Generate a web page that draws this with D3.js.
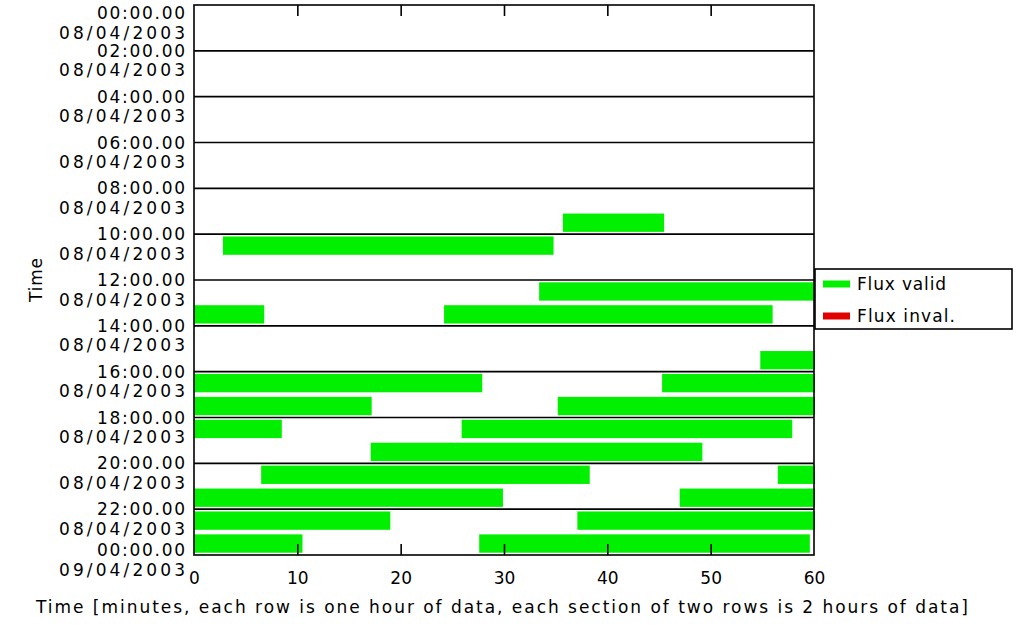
<!DOCTYPE html>
<html>
<head>
<meta charset="utf-8">
<script src="https://cdn.jsdelivr.net/npm/d3@7"></script>
<style>
  html, body { margin: 0; padding: 0; background: #ffffff; }
  svg { display: block; }
  text { font-family: "DejaVu Sans", sans-serif; fill: #000; }
</style>
</head>
<body>
<svg id="chart" width="1016" height="630"></svg>
<script>
// ---- data ----
const hourRows = d3.range(24);                   // one row per hour
const minuteTicks = [0, 10, 20, 30, 40, 50, 60];
const sectionTimes = ["00:00.00","02:00.00","04:00.00","06:00.00","08:00.00","10:00.00",
                      "12:00.00","14:00.00","16:00.00","18:00.00","20:00.00","22:00.00","00:00.00"];
const sectionDates = ["08/04/2003","08/04/2003","08/04/2003","08/04/2003","08/04/2003","08/04/2003",
                      "08/04/2003","08/04/2003","08/04/2003","08/04/2003","08/04/2003","08/04/2003","09/04/2003"];
// [hour row, start minute, end minute]
const validSegments = [
  [9, 35.7, 45.4],
  [10, 2.8, 34.7],
  [12, 33.4, 60],
  [13, 0, 6.7], [13, 24.2, 55.9],
  [15, 54.8, 60],
  [16, 0, 27.8], [16, 45.3, 60],
  [17, 0, 17.1], [17, 35.2, 60],
  [18, 0, 8.4], [18, 25.9, 57.8],
  [19, 17.1, 49.1],
  [20, 6.5, 38.2], [20, 56.5, 60],
  [21, 0, 29.8], [21, 47.0, 60],
  [22, 0, 18.9], [22, 37.1, 60],
  [23, 0, 10.4], [23, 27.6, 59.5]
];
const invalidSegments = [];
const legendLabels = ["Flux valid", "Flux inval."];
const legendColors = ["#00f000", "#e00000"];

// ---- layout ----
const svg = d3.select("#chart");
const L = 194, R = 814, T = 5, B = 555;
const x = d3.scaleLinear().domain([0, 60]).range([L, R]);
const yLin = d3.scaleLinear().domain([0, 24]).range([T, B]);
const yBand = d3.scaleBand().domain(hourRows).range([T, B]).paddingInner(0.2).paddingOuter(0.1);

// bars
svg.append("g").selectAll("rect.valid").data(validSegments).join("rect")
  .attr("x", d => x(d[1]))
  .attr("width", d => x(d[2]) - x(d[1]) + 1)
  .attr("y", d => yBand(d[0]))
  .attr("height", yBand.bandwidth())
  .attr("fill", legendColors[0]);
svg.append("g").selectAll("rect.invalid").data(invalidSegments).join("rect")
  .attr("x", d => x(d[1]))
  .attr("width", d => x(d[2]) - x(d[1]))
  .attr("y", d => yBand(d[0]))
  .attr("height", yBand.bandwidth())
  .attr("fill", legendColors[1]);

// section lines
const sections = d3.range(sectionTimes.length);
svg.append("g").selectAll("line").data(sections.slice(1, -1)).join("line")
  .attr("x1", L).attr("x2", R)
  .attr("y1", d => yLin(d * 2)).attr("y2", d => yLin(d * 2))
  .attr("stroke", "#000").attr("stroke-width", 1.6);

// frame
svg.append("rect").attr("x", L).attr("y", T).attr("width", R - L).attr("height", B - T)
  .attr("fill", "none").attr("stroke", "#000").attr("stroke-width", 1.6);

// top axis (ticks only)
const topAxis = svg.append("g").attr("transform", `translate(0,${T})`)
  .call(d3.axisTop(x).tickValues(minuteTicks.slice(1, -1)).tickSize(-11).tickFormat(""));
topAxis.select(".domain").remove();
topAxis.selectAll("line").attr("stroke", "#000").attr("stroke-width", 1.6);

// bottom axis
const botAxis = svg.append("g").attr("transform", `translate(0,${B})`)
  .call(d3.axisBottom(x).tickValues(minuteTicks).tickSize(-11).tickPadding(17));
botAxis.select(".domain").remove();
botAxis.selectAll("line").attr("stroke", "#000").attr("stroke-width", 1.6)
  .attr("display", d => (d === 0 || d === 60) ? "none" : null);
botAxis.selectAll("text").attr("font-size", 17).attr("font-family", "DejaVu Sans").attr("fill", "#000");

// y labels
const offs = i => i === 0 ? 8 : (i === sectionTimes.length - 1 ? -5 : 0);
const yl = svg.append("g");
yl.selectAll("text.t").data(sections).join("text")
  .attr("x", 185).attr("y", i => yLin(i * 2) + offs(i)).attr("dy", "0.36em")
  .attr("text-anchor", "end").attr("font-size", 17)
  .attr("textLength", 88).attr("lengthAdjust", "spacing")
  .text(i => sectionTimes[i]);
yl.selectAll("text.d").data(sections).join("text")
  .attr("x", 185).attr("y", i => yLin(i * 2) + offs(i) + 19.5).attr("dy", "0.36em")
  .attr("text-anchor", "end").attr("font-size", 17)
  .attr("textLength", 126).attr("lengthAdjust", "spacing")
  .text(i => sectionDates[i]);

// axis titles
svg.append("text").attr("transform", `translate(42,${(T + B) / 2}) rotate(-90)`)
  .attr("text-anchor", "middle").attr("font-size", 17)
  .attr("textLength", 44).attr("lengthAdjust", "spacing").text("Time");
svg.append("text").attr("x", 502).attr("y", 607).attr("dy", "0.36em")
  .attr("text-anchor", "middle").attr("font-size", 17)
  .attr("textLength", 932).attr("lengthAdjust", "spacing")
  .text("Time [minutes, each row is one hour of data, each section of two rows is 2 hours of data]");

// legend
const lg = svg.append("g");
lg.append("rect").attr("x", 815).attr("y", 269).attr("width", 197).attr("height", 60)
  .attr("fill", "#fff").attr("stroke", "#000").attr("stroke-width", 1.6);
const lgY = d3.scalePoint().domain(legendLabels).range([284, 316]);
lg.selectAll("rect.sw").data(legendLabels).join("rect")
  .attr("x", 823).attr("width", 27).attr("y", d => lgY(d) - 3.5).attr("height", 7)
  .attr("fill", (d, i) => legendColors[i]);
const lgW = [89, 98];
lg.selectAll("text").data(legendLabels).join("text")
  .attr("x", 857).attr("y", d => lgY(d)).attr("dy", "0.36em")
  .attr("font-size", 17).attr("textLength", (d, i) => lgW[i]).attr("lengthAdjust", "spacing")
  .text(d => d);
</script>
</body>
</html>
